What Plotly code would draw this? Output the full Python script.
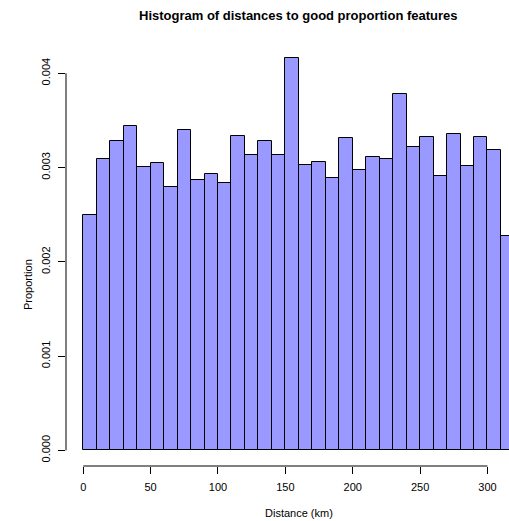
import plotly.graph_objects as go

bin_start = [0, 10, 20, 30, 40, 50, 60, 70, 80, 90, 100, 110, 120, 130, 140, 150,
             160, 170, 180, 190, 200, 210, 220, 230, 240, 250, 260, 270, 280, 290, 300, 310]
proportion = [0.00250, 0.00309, 0.00328, 0.00344, 0.00301, 0.00305, 0.00279, 0.00340,
              0.00287, 0.00293, 0.00284, 0.00333, 0.00313, 0.00328, 0.00313, 0.00416,
              0.00303, 0.00306, 0.00289, 0.00331, 0.00297, 0.00311, 0.00309, 0.00378,
              0.00322, 0.00332, 0.00291, 0.00336, 0.00302, 0.00332, 0.00319, 0.00227]
x_ticks = [0, 50, 100, 150, 200, 250, 300]
y_ticks = [0.000, 0.001, 0.002, 0.003, 0.004]

FONT = "Liberation Sans, Arial, Helvetica, sans-serif"

fig = go.Figure(go.Bar(
    x=bin_start, y=proportion, width=10, offset=0,
    marker=dict(color="#9999FF", line=dict(color="black", width=1)),
    hoverinfo="skip",
))

fig.update_layout(
    width=509, height=521,
    margin=dict(l=66, r=0, t=43, b=55),
    plot_bgcolor="white", paper_bgcolor="white",
    showlegend=False, bargap=0,
    font=dict(family=FONT, size=11, color="black"),
    xaxis=dict(range=[-12.8, 316.0], tickvals=x_ticks, ticks="outside", ticklen=7,
               tickcolor="black", showgrid=False, zeroline=False, showline=False,
               ticklabelstandoff=4, tickfont=dict(size=11)),
    yaxis=dict(range=[-0.000166, 0.004321], tickvals=y_ticks, tickformat=".3f",
               ticks="outside", ticklen=7, tickcolor="black", tickangle=-90,
               showgrid=False, zeroline=False, showline=False,
               ticklabelstandoff=4, tickfont=dict(size=11)),
    shapes=[
        dict(type="line", xref="x", yref="paper", x0=x_ticks[0], x1=x_ticks[-1], y0=0, y1=0,
             line=dict(color="black", width=1)),
        dict(type="line", xref="paper", yref="y", x0=0, x1=0, y0=y_ticks[0], y1=y_ticks[-1],
             line=dict(color="black", width=1)),
    ],
    annotations=[
        dict(text="<b>Histogram of distances to good proportion features</b>",
             xref="paper", yref="paper", x=(298.8 - 66) / 443, y=1, yshift=28,
             xanchor="center", yanchor="middle", showarrow=False,
             font=dict(size=13, family=FONT)),
        dict(text="Distance (km)", xref="paper", yref="paper", x=(298.8 - 66) / 443, y=0,
             yshift=-47, xanchor="center", yanchor="middle", showarrow=False,
             font=dict(size=11, family=FONT)),
        dict(text="Proportion", xref="paper", yref="paper", x=0, xshift=-38, y=0.5,
             yshift=(466 - 43) / 2 - (285 - 43), textangle=-90,
             xanchor="center", yanchor="middle", showarrow=False,
             font=dict(size=11, family=FONT)),
    ],
)

fig.write_html(
    "out.html",
    config={"displayModeBar": False},
    post_script="document.body.style.margin='0';document.body.style.overflow='hidden';",
)
